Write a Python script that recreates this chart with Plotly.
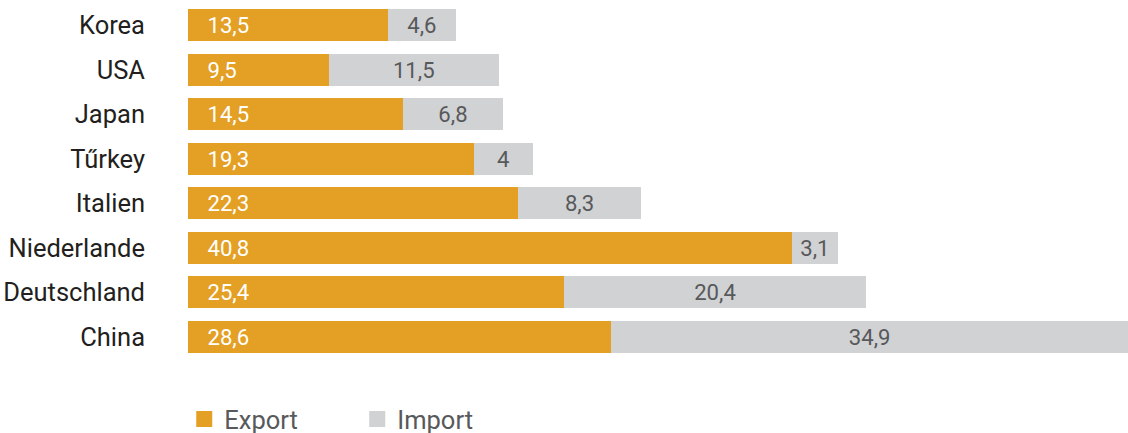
import plotly.graph_objects as go

countries = ["Korea", "USA", "Japan", "Tűrkey", "Italien", "Niederlande", "Deutschland", "China"]
export_vals = [13.5, 9.5, 14.5, 19.3, 22.3, 40.8, 25.4, 28.6]
import_vals = [4.6, 11.5, 6.8, 4, 8.3, 3.1, 20.4, 34.9]

ORANGE = "#E4A024"
GRAY = "#D1D2D4"
FONT = "Roboto"
FS = 25.5
W, H = 1128, 443

def fmt(v):
    return ("%g" % v).replace(".", ",")

fig = go.Figure()
fig.add_trace(go.Bar(
    y=countries, x=export_vals, orientation="h", name="Export",
    marker=dict(color=ORANGE, line=dict(width=0)),
    text=["\u00a0\u00a0\u00a0" + fmt(v) for v in export_vals],
    textposition="inside", insidetextanchor="start", textangle=0,
    textfont=dict(family=FONT, size=FS, color="white"),
    showlegend=False, hoverinfo="skip",
))
fig.add_trace(go.Bar(
    y=countries, x=import_vals, orientation="h", name="Import",
    marker=dict(color=GRAY, line=dict(width=0)),
    text=[fmt(v) for v in import_vals],
    textposition="inside", insidetextanchor="middle", textangle=0,
    textfont=dict(family=FONT, size=FS, color="#58595B"),
    showlegend=False, hoverinfo="skip",
))
# legend entries
for name, col in [("Export", ORANGE), ("Import", GRAY)]:
    fig.add_trace(go.Scatter(
        x=[None], y=[None], mode="markers", name=name,
        marker=dict(symbol="square", size=22, color=col),
    ))

fig.update_layout(
    width=W, height=H, autosize=False,
    barmode="stack", bargap=0.28,
    plot_bgcolor="white", paper_bgcolor="white",
    margin=dict(l=188, r=0, t=3, b=84),
    font=dict(family=FONT, size=FS, color="#231F20"),
    uniformtext=dict(minsize=10, mode="show"),
    xaxis=dict(range=[0, 63.5], visible=False, fixedrange=True),
    yaxis=dict(autorange="reversed", showgrid=False, zeroline=False,
               showline=False, ticks="", ticklabelstandoff=42,
               tickfont=dict(family=FONT, size=FS, color="#231F20"),
               fixedrange=True),
    legend=dict(orientation="h", x=-0.004, xanchor="left",
                yref="container", y=0, yanchor="bottom",
                font=dict(family=FONT, size=FS, color="#58595B"),
                entrywidth=128, entrywidthmode="pixels",
                itemwidth=30, traceorder="normal"),
)

post = (
    "document.body.style.margin='0';document.body.style.overflow='hidden';"
    "var gd=document.getElementById('{plot_id}');"
    "Plotly.relayout(gd,{width:%d,height:%d});" % (W, H)
)
fig.write_html("out.html", post_script=post, config={"displayModeBar": False})
